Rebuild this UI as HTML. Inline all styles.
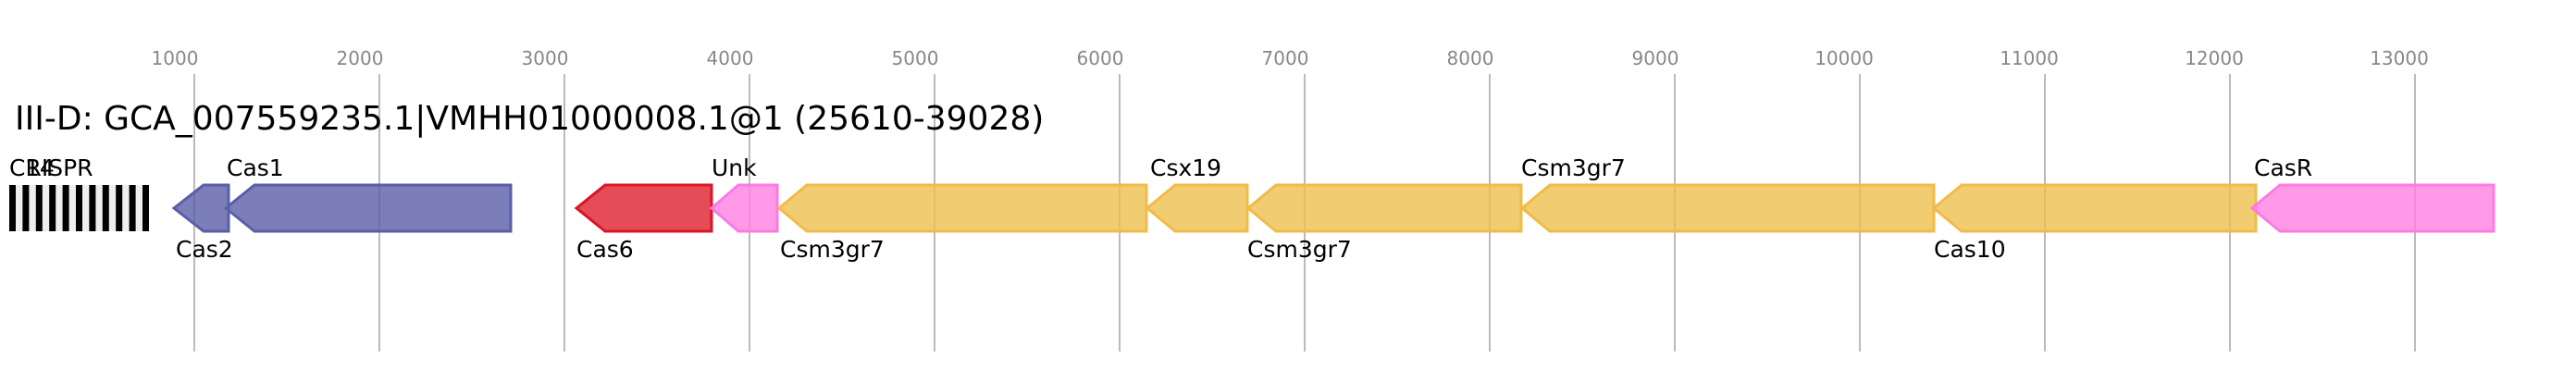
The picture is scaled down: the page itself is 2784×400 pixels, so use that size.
<!DOCTYPE html>
<html><head><meta charset="utf-8"><style>
html,body{margin:0;padding:0;background:#fff;}
svg{display:block;}
text{font-family:"DejaVu Sans","Liberation Sans",sans-serif;}
</style></head><body>
<svg width="2784" height="400" xmlns="http://www.w3.org/2000/svg">
<g stroke="#bbb" stroke-width="2">
<line x1="210" y1="80" x2="210" y2="380"/><line x1="410" y1="80" x2="410" y2="380"/>
<line x1="610" y1="80" x2="610" y2="380"/><line x1="810" y1="80" x2="810" y2="380"/>
<line x1="1010" y1="80" x2="1010" y2="380"/><line x1="1210" y1="80" x2="1210" y2="380"/>
<line x1="1410" y1="80" x2="1410" y2="380"/><line x1="1610" y1="80" x2="1610" y2="380"/>
<line x1="1810" y1="80" x2="1810" y2="380"/><line x1="2010" y1="80" x2="2010" y2="380"/>
<line x1="2210" y1="80" x2="2210" y2="380"/><line x1="2410" y1="80" x2="2410" y2="380"/>
<line x1="2610" y1="80" x2="2610" y2="380"/>
</g>
<g fill="#888" font-size="20" text-anchor="middle">
<text x="189" y="70">1000</text><text x="389" y="70">2000</text><text x="589" y="70">3000</text>
<text x="789" y="70">4000</text><text x="989" y="70">5000</text><text x="1189" y="70">6000</text>
<text x="1389" y="70">7000</text><text x="1589" y="70">8000</text><text x="1789" y="70">9000</text>
<text x="1993" y="70">10000</text><text x="2193" y="70">11000</text><text x="2393" y="70">12000</text>
<text x="2593" y="70">13000</text>
</g>
<text x="16" y="140" font-size="36" fill="#000">III-D: GCA_007559235.1|VMHH01000008.1@1 (25610-39028)</text>
<rect x="10" y="200" width="151" height="50" fill="#eee"/>
<g fill="#000">
<rect x="10" y="200" width="7" height="50"/><rect x="24.4" y="200" width="7" height="50"/>
<rect x="38.8" y="200" width="7" height="50"/><rect x="53.2" y="200" width="7" height="50"/>
<rect x="67.6" y="200" width="7" height="50"/><rect x="82" y="200" width="7" height="50"/>
<rect x="96.4" y="200" width="7" height="50"/><rect x="110.8" y="200" width="7" height="50"/>
<rect x="125.2" y="200" width="7" height="50"/><rect x="139.6" y="200" width="7" height="50"/>
<rect x="154" y="200" width="7" height="50"/>
</g>
<g stroke-width="3" fill-opacity="0.8">
<polygon points="188,225 220,200 247,200 247,250 220,250" fill="#5a5ea8" stroke="#5a5ea8"/>
<polygon points="244,225 275,200 552,200 552,250 275,250" fill="#5a5ea8" stroke="#5a5ea8"/>
<polygon points="623,225 654,200 769,200 769,250 654,250" fill="#e01e2e" stroke="#dc1428"/>
<polygon points="769,225 798,200 840,200 840,250 798,250" fill="#ff80e2" stroke="#ff7ae0"/>
<polygon points="842,225 872,200 1239,200 1239,250 872,250" fill="#efbf4e" stroke="#f0bb48"/>
<polygon points="1240,225 1270,200 1348,200 1348,250 1270,250" fill="#efbf4e" stroke="#f0bb48"/>
<polygon points="1349,225 1379,200 1644,200 1644,250 1379,250" fill="#efbf4e" stroke="#f0bb48"/>
<polygon points="1645,225 1675,200 2090,200 2090,250 1675,250" fill="#efbf4e" stroke="#f0bb48"/>
<polygon points="2090,225 2120,200 2438,200 2438,250 2120,250" fill="#efbf4e" stroke="#f0bb48"/>
<polygon points="2434,225 2464,200 2695,200 2695,250 2464,250" fill="#ff80e2" stroke="#ff7ae0"/>
</g>
<g font-size="25" fill="#000">
<text x="10" y="190">CRISPR</text><text x="27" y="190">14</text>
<text x="245" y="190">Cas1</text><text x="190" y="278">Cas2</text>
<text x="623" y="278">Cas6</text><text x="769" y="190">Unk</text>
<text x="843" y="278">Csm3gr7</text><text x="1243" y="190">Csx19</text>
<text x="1348" y="278">Csm3gr7</text><text x="1644" y="190">Csm3gr7</text>
<text x="2090" y="278">Cas10</text><text x="2436" y="190">CasR</text>
</g>
</svg>
</body></html>
